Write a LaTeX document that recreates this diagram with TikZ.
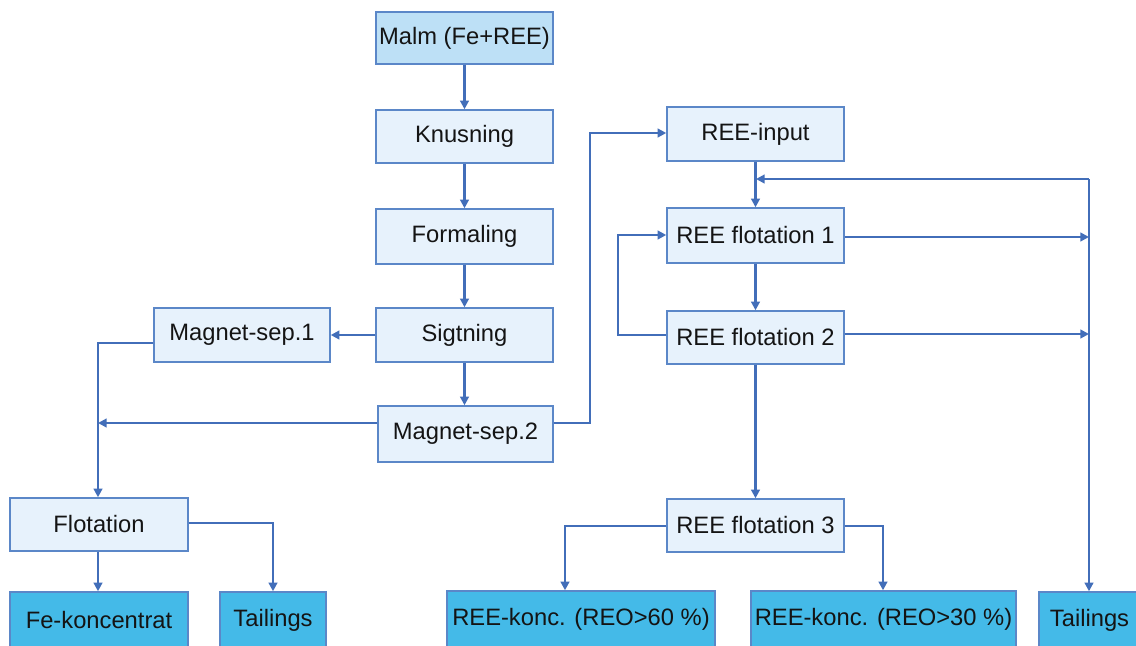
\documentclass[tikz,border=0pt]{standalone}
\usepackage{fontspec}
\setmainfont{Liberation Sans}
\usetikzlibrary{arrows.meta,calc}
\definecolor{bord}{RGB}{91,135,200}
\definecolor{lin}{RGB}{66,110,185}
\definecolor{srcfill}{RGB}{189,224,246}
\definecolor{procfill}{RGB}{231,242,252}
\definecolor{prodfill}{RGB}{68,186,232}
\definecolor{txt}{RGB}{20,20,20}
\tikzset{
  basebox/.style={draw=bord, line width=1.1pt, inner sep=0pt, text=txt,
    font=\fontsize{17.8}{20}\selectfont, anchor=center},
  srcbox/.style={basebox, fill=srcfill},
  procbox/.style={basebox, fill=procfill},
  prodbox/.style={basebox, fill=prodfill},
  span/.style n args={4}{minimum width={(#3-#1)*0.75pt},
    minimum height={(#4-#2)*0.75pt}, at={({(#1+#3)/2},{(#2+#4)/2})}},
  conn/.style={draw=lin, line width=1.6pt},
  arr/.style={conn, -{Triangle[length=6.5pt,width=6.5pt]}},
}
\begin{document}
\begin{tikzpicture}[x=0.75pt,y=-0.75pt]
\clip (0,0) rectangle (1136,646);
\fill[white] (0,0) rectangle (1136,646);
% left column
\node[srcbox, span={376}{12}{553}{64}] (malm) {Malm (Fe+REE)};
\node[procbox, span={376}{110}{553}{163}] (knus) {Knusning};
\node[procbox, span={376}{209}{553}{264}] (form) {Formaling};
\node[procbox, span={376}{308}{553}{362}] (sigt) {Sigtning};
\node[procbox, span={154}{308}{330}{362}] (ms1) {Magnet-sep.1};
\node[procbox, span={378}{406}{553}{462}] (ms2) {Magnet-sep.2};
\node[procbox, span={10}{498}{188}{551}] (flot) {Flotation};
\node[prodbox, span={10}{592}{188}{648}] (fek) {Fe-koncentrat};
\node[prodbox, span={220}{592}{326}{648}] (tailL) {Tailings};
% right column
\node[procbox, span={667}{107}{844}{161}] (input) {REE-input};
\node[procbox, span={667}{208}{844}{263}] (rf1) {REE flotation 1};
\node[procbox, span={667}{311}{844}{364}] (rf2) {REE flotation 2};
\node[procbox, span={667}{499}{844}{552}] (rf3) {REE flotation 3};
\node[prodbox, span={447}{591}{715}{648}] (k60) {REE-konc. (REO>60~\%)};
\node[prodbox, span={751}{591}{1016}{648}] (k30) {REE-konc. (REO>30~\%)};
\node[prodbox, span={1039}{592}{1140}{648}] (tailR) {Tailings};
% junction coordinates
\coordinate (jL) at (98,343);
\coordinate (jM) at (98,423);
\coordinate (jR) at (590,423);
\coordinate (jRt) at (590,133);
\coordinate (fb) at (1089,179);
\coordinate (fbl) at (756,179);
\coordinate (t1) at (1089,237);
\coordinate (t2) at (1089,334);
\coordinate (lp1) at (618,335);
\coordinate (lp2) at (618,235);
\coordinate (s60) at (565,526);
\coordinate (s30) at (883,526);
\coordinate (st) at (273,523);
% connectors left
\draw[arr] (malm) -- (knus);
\draw[arr] (knus) -- (form);
\draw[arr] (form) -- (sigt);
\draw[arr] (sigt.south) -- (sigt.south |- ms2.north);
\draw[arr] (sigt) -- (ms1);
\draw[arr] (ms1.west |- jL) -- (jL) -- (flot.north -| jL);
\draw[arr] (ms2.west |- jM) -- (jM);
\draw[arr] (ms2.east |- jR) -- (jR) -- (jRt) -- (input.west |- jRt);
\draw[arr] (flot.south -| jL) -- (fek.north -| jL);
\draw[arr] (flot.east |- st) -- (st) -- (st |- tailL.north);
% connectors right
\draw[arr] (input) -- (rf1);
\draw[arr] (rf1) -- (rf2);
\draw[arr] (rf2) -- (rf3);
\draw[arr] (fb) -- (fbl);
\draw[arr] (fb) -- (fb |- tailR.north);
\draw[arr] (rf1.east |- t1) -- (t1);
\draw[arr] (rf2.east |- t2) -- (t2);
\draw[arr] (rf2.west |- lp1) -- (lp1) -- (lp2) -- (rf1.west |- lp2);
\draw[arr] (rf3.west |- s60) -- (s60) -- (s60 |- k60.north);
\draw[arr] (rf3.east |- s30) -- (s30) -- (s30 |- k30.north);
\end{tikzpicture}
\end{document}
